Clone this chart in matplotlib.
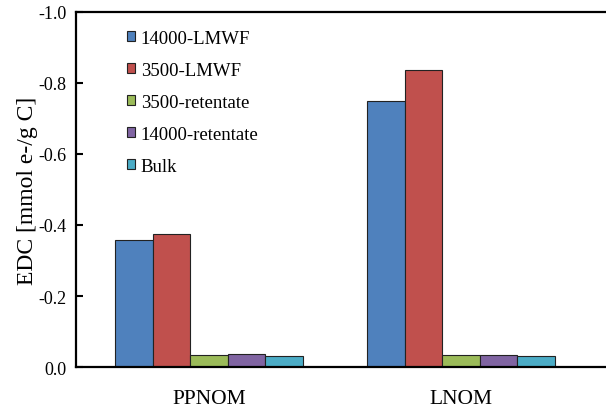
import matplotlib
matplotlib.use("Agg")
import matplotlib.pyplot as plt
import numpy as np

plt.rcParams['font.family'] = ['Liberation Serif', 'DejaVu Serif']

# data
categories = ["PPNOM", "LNOM"]
series = ["14000-LMWF", "3500-LMWF", "3500-retentate", "14000-retentate", "Bulk"]
values = {
    "14000-LMWF": [-0.359, -0.749],
    "3500-LMWF": [-0.374, -0.836],
    "3500-retentate": [-0.033, -0.034],
    "14000-retentate": [-0.036, -0.034],
    "Bulk": [-0.032, -0.032],
}
colors = ["#4F81BD", "#C0504D", "#9BBB59", "#8064A2", "#4BACC6"]
yticks = [0.0, -0.2, -0.4, -0.6, -0.8, -1.0]

fig = plt.figure(figsize=(6.06, 4.10), dpi=100)
ax = fig.add_axes([0.1254, 0.1024, 0.8746, 0.866])

x = np.arange(len(categories))
w = 0.149
for i, name in enumerate(series):
    ax.bar(x + (i - 2) * w, values[name], w, color=colors[i],
           edgecolor="#222222", linewidth=0.8, label=name)

ax.set_xlim(-0.528, 1.575)
ax.set_ylim(0, -1.0)
ax.set_yticks(yticks)
ax.set_yticklabels(["%.1f" % v for v in yticks], fontsize=13)
ax.set_xticks(x)
ax.set_xticklabels(categories, fontsize=15.5)
ax.tick_params(axis='y', direction='in', length=5, width=1.5, pad=7)
ax.tick_params(axis='x', length=0, pad=16)
ax.set_ylabel("EDC [mmol e-/g C]", fontsize=17, labelpad=0)

for s in ["left", "top", "bottom"]:
    ax.spines[s].set_linewidth(1.6)
ax.spines["right"].set_visible(False)

ax.legend(loc="upper left", bbox_to_anchor=(0.064, 0.998), frameon=False,
          fontsize=13.5, handlelength=0.45, handleheight=0.45, handletextpad=0.3,
          labelspacing=0.8)

fig.savefig("out.png", dpi=100)
